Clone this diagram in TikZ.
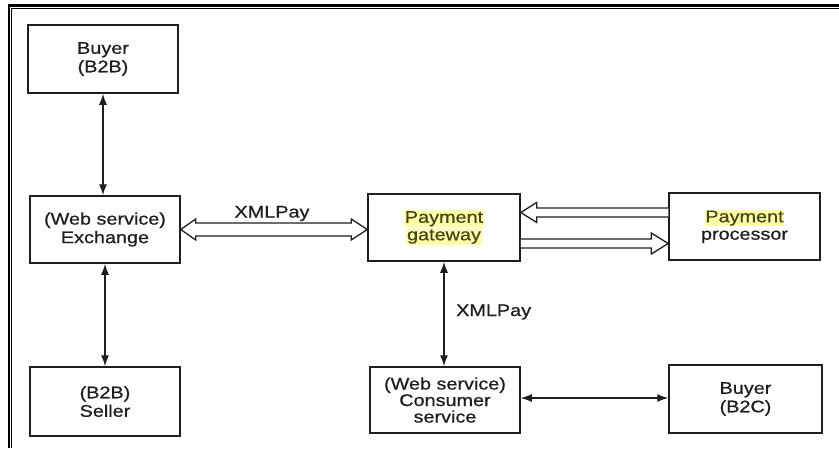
\documentclass[tikz,border=0pt]{standalone}
\usepackage{fontspec}
\setmainfont{Liberation Sans}[FakeStretch=1.18,FakeBold=0.7]
\usetikzlibrary{calc,arrows.meta}
\definecolor{ink}{HTML}{1E1E1E}
\definecolor{hl}{HTML}{FFFFA6}
\definecolor{olivetext}{HTML}{45451A}
\newcommand\hlt[1]{{\setlength\fboxsep{0.8pt}\colorbox{hl}{\textcolor{olivetext}{#1}}}}
\tikzset{
  boxnode/.style={draw=ink, line width=1.5pt, minimum width=150pt, minimum height=67pt,
    align=center, inner sep=2pt, text=ink,
    font=\fontsize{16.8}{18.5}\selectfont},
  lbl/.style={text=ink, font=\fontsize{16.8}{18.5}\selectfont, inner sep=0pt},
  thinarrow/.style={draw=ink, line width=1.4pt, {Latex[length=11pt,width=8pt]}-{Latex[length=11pt,width=8pt]}},
  hol/.style={draw=ink, line width=1.3pt, line join=miter, fill=white}
}
\begin{document}
\begin{tikzpicture}[x=1pt,y=-1pt]
\useasboundingbox (0,0) rectangle (839,448);
% frame
\draw[black, line width=2.4pt] (8.7,448) -- (8.7,5.3) -- (839,5.3);
\draw[black, line width=1.2pt] (11.8,448) -- (11.8,8.6) -- (839,8.6);
% nodes
\node[boxnode, minimum height=68pt] (bb) at (103,59) {Buyer\\(B2B)};
\node[boxnode] (ex) at (105,229.5) {(Web service)\\Exchange};
\node[boxnode, minimum height=69pt] (se) at (105,401.5) {(B2B)\\Seller};
\node[boxnode, minimum width=152pt] (gw) at (444,227.5) {\hlt{Payment}\\[-1pt]\hlt{gateway}};
\node[boxnode, minimum width=151pt] (pp) at (744.5,226.5) {\hlt{Payment}\\[-1pt]processor};
\node[boxnode, minimum height=66pt, font=\fontsize{16.8}{16.5}\selectfont] (cs) at (445,400) {(Web service)\\Consumer\\service};
\node[boxnode, minimum width=153pt, minimum height=68pt] (bc) at (745.5,399) {Buyer\\(B2C)};
% thin arrows
\draw[thinarrow] (bb.south) -- (bb.south |- ex.north);
\draw[thinarrow] (ex.south) -- (se.north);
\draw[thinarrow] (gw.south) -- (gw.south |- cs.north);
\draw[thinarrow, line width=1.1pt] ($(cs.east)+(0,-2)$) -- ($(cs.east -| bc.west)+(0,-2)$);
% hollow double-headed arrow exchange <-> gateway
\draw[hol] let \p1=(ex.east), \p2=(gw.west) in
  (\x1,\y1) -- (\x1+15pt,\y1+10.5pt) -- (\x1+15pt,\y1+6.5pt) -- (\x2-16pt,\y1+6.5pt)
  -- (\x2-16pt,\y1+10.5pt) -- (\x2,\y1) -- (\x2-16pt,\y1-10.5pt) -- (\x2-16pt,\y1-6.5pt)
  -- (\x1+15pt,\y1-6.5pt) -- (\x1+15pt,\y1-10.5pt) -- cycle;
% processor -> gateway (upper, pointing left)
\draw[hol] let \p1=($(gw.east)+(0,-15)$), \p2=(pp.west) in
  (\x2,\y1+4.5pt) -- (\x1+16pt,\y1+4.5pt) -- (\x1+16pt,\y1+10pt) -- (\x1,\y1)
  -- (\x1+16pt,\y1-10pt) -- (\x1+16pt,\y1-4.5pt) -- (\x2,\y1-4.5pt);
% gateway -> processor (lower, pointing right)
\draw[hol] let \p1=($(gw.east)+(0,16)$), \p2=(pp.west) in
  (\x1,\y1+4.5pt) -- (\x2-17pt,\y1+4.5pt) -- (\x2-17pt,\y1+10.5pt) -- (\x2,\y1)
  -- (\x2-17pt,\y1-10.5pt) -- (\x2-17pt,\y1-4.5pt) -- (\x1,\y1-4.5pt);
% labels
\node[lbl] (x1) at ($(ex.east)!0.5!(gw.west)+(-2,-15)$) {XMLPay};
\node[lbl, anchor=west] (x2) at ($(gw.south)!0.5!(gw.south |- cs.north)+(12,-2)$) {XMLPay};
\end{tikzpicture}
\end{document}
